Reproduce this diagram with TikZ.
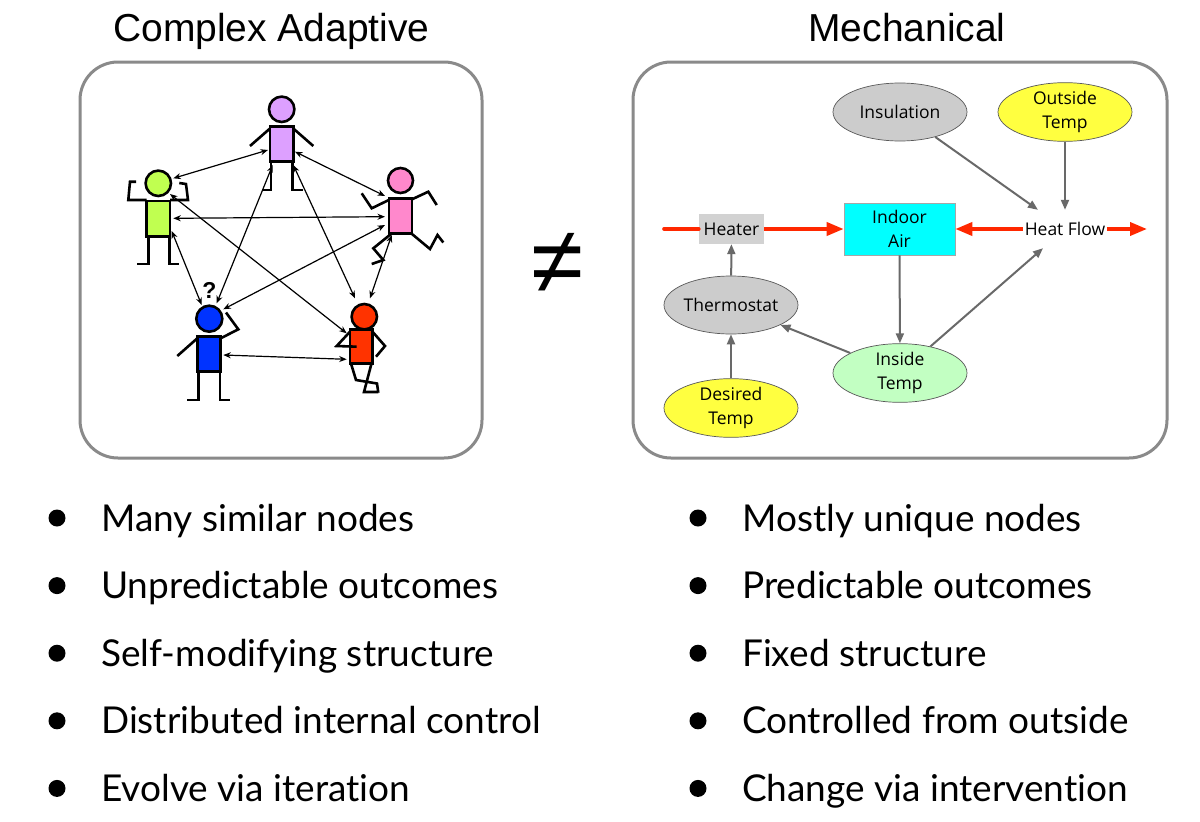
\documentclass[tikz,border=0pt]{standalone}
\usepackage{fontspec}
\setmainfont{Liberation Sans}
\newfontfamily\gillf[Ligatures=NoCommon]{Lato}
\newfontfamily\comicf{Open Sans}
\usetikzlibrary{arrows.meta,shapes.geometric}
\definecolor{boxgray}{RGB}{138,138,138}
\definecolor{arrgray}{RGB}{105,105,105}
\definecolor{nodegray}{RGB}{204,204,204}
\definecolor{heatergray}{RGB}{210,210,210}
\definecolor{nyellow}{RGB}{255,255,64}
\definecolor{ncyan}{RGB}{0,255,255}
\definecolor{ngreen}{RGB}{194,255,194}
\definecolor{hotred}{RGB}{255,40,0}
\definecolor{fpurple}{RGB}{221,160,255}
\definecolor{fgreen}{RGB}{192,255,80}
\definecolor{fpink}{RGB}{255,136,204}
\definecolor{fblue}{RGB}{0,51,255}
\definecolor{fred}{RGB}{255,51,0}
\tikzset{
  panel/.style={draw=boxgray, line width=3, rounded corners=38},
  title/.style={anchor=base, font=\fontsize{39}{45}\selectfont},
  bul/.style={circle, fill=black, minimum size=17, inner sep=0},
  btext/.style={anchor=base west, inner sep=0, font=\gillf\fontsize{37}{40}\selectfont},
  limb/.style={line width=2.6, line join=miter},
  headc/.style={line width=2.6},
  link/.style={line width=1.2, {Stealth[length=7.5,width=6]}-{Stealth[length=7.5,width=6]}},
  dnode/.style={font=\comicf\fontsize{17.5}{24}\selectfont, align=center, inner sep=0},
  oval/.style={dnode, ellipse, draw=black!65, line width=0.7, minimum width=134, minimum height=58},
  garrow/.style={draw=arrgray, line width=2, -{Triangle[length=10,width=8]}},
  rarrow/.style={draw=hotred, line width=3.6, -{Triangle[length=17,width=13]}},
}
\begin{document}
\begin{tikzpicture}[x=1pt,y=-1pt]
\useasboundingbox (0,0) rectangle (1200,822);
\fill[white] (0,0) rectangle (1200,822);

% titles
\node[title] (t1) at (271.5,41) {Complex Adaptive};
\node[title] (t2) at (907,41) {Mechanical};

% panels
\draw[panel] (80,62) rectangle (482,458);
\draw[panel] (633,62) rectangle (1167,458);

% not equal
\node[anchor=base, inner sep=0, font=\fontsize{95}{95}\selectfont] (neq) at (557.5,293) {≠};

% ---------- stick figures ----------
% purple
\filldraw[fill=fpurple, limb] (270,126.7) rectangle (293.3,161.7);
\filldraw[fill=fpurple, headc] (281.7,109.3) circle (12.7);
\draw[limb] (270,128.5) -- (250,146);
\draw[limb] (293.3,128.5) -- (313.3,146);
\draw[limb] (271,161.7) -- (271,190) -- (261.7,190);
\draw[limb] (292.5,161.7) -- (292.5,190) -- (302.7,190);
% green
\filldraw[fill=fgreen, limb] (146.7,201) rectangle (170,236.7);
\filldraw[fill=fgreen, headc] (158.3,183.3) circle (12.7);
\draw[limb] (146.7,200) -- (128.3,200) -- (130,181.7) -- (136,181.7);
\draw[limb] (170,200) -- (188,200) -- (186,184) -- (179.3,183);
\draw[limb] (148.3,236.7) -- (148.3,264) -- (137.3,264);
\draw[limb] (169.5,236.7) -- (169.5,264) -- (179.3,264);
% pink
\filldraw[fill=fpink, limb] (388.8,198.3) rectangle (412,233.7);
\filldraw[fill=fpink, headc] (400.5,180.5) circle (12.5);
\draw[limb] (388.8,200) -- (371.7,208.3) -- (361.7,193.3);
\draw[limb] (412,199.3) -- (428.3,191.7) -- (436.7,205);
\draw[limb] (391,234) -- (373.3,248.3) -- (383.3,260) -- (371.7,264);
\draw[limb] (412,234) -- (430,249) -- (437.5,235) -- (443.3,242.5);
% blue
\filldraw[fill=fblue, limb] (197.3,336.7) rectangle (220.7,371.7);
\filldraw[fill=fblue, headc] (209.3,318.7) circle (13);
\draw[limb] (197.3,338.3) -- (177.3,356);
\draw[limb] (220.7,338.3) -- (238.3,329.3) -- (226,312.5);
\draw[limb] (198.3,371.7) -- (198.3,400) -- (187.3,400);
\draw[limb] (220,371.7) -- (220,400) -- (230,400);
\node[inner sep=0, font=\bfseries\fontsize{23}{23}\selectfont] (qm) at (209.3,290) {?};
% red
\filldraw[fill=fred, limb] (350,329.7) rectangle (372.5,363.5);
\filldraw[fill=fred, headc] (364.3,316.7) circle (12.7);
\draw[limb] (350,331.7) -- (336.7,346) -- (356.7,346.7);
\draw[limb] (372.5,331.7) -- (385,346) -- (376,356.7);
\draw[limb] (351,363.5) -- (356,380) -- (377,383.5) -- (378.3,392.7);
\draw[limb] (371.5,363.5) -- (364,392) -- (378.3,392);

% ---------- links between figures ----------
\coordinate (pg1) at (268,150); \coordinate (pg2) at (173.3,178.3);
\coordinate (pk1) at (295,151.7); \coordinate (pk2) at (385,196);
\coordinate (pb1) at (272.7,165); \coordinate (pb2) at (216.7,303.3);
\coordinate (pr1) at (293.3,165); \coordinate (pr2) at (355,298.3);
\coordinate (gk1) at (173.3,218.3); \coordinate (gk2) at (385,216.7);
\coordinate (gb1) at (171.7,231); \coordinate (gb2) at (201.7,305);
\coordinate (gr1) at (170,194); \coordinate (gr2) at (346.7,333.3);
\coordinate (kb1) at (385,225); \coordinate (kb2) at (223.3,309.3);
\coordinate (kr1) at (391.7,235); \coordinate (kr2) at (370,298.3);
\coordinate (br1) at (223.3,355); \coordinate (br2) at (346.7,359.3);
\draw[link] (pg1) -- (pg2);
\draw[link] (pk1) -- (pk2);
\draw[link] (pb1) -- (pb2);
\draw[link] (pr1) -- (pr2);
\draw[link] (gk1) -- (gk2);
\draw[link] (gb1) -- (gb2);
\draw[link] (gr1) -- (gr2);
\draw[link] (kb1) -- (kb2);
\draw[link] (kr1) -- (kr2);
\draw[link] (br1) -- (br2);

% ---------- mechanical diagram ----------
\node[oval, fill=nodegray] (ins) at (900,112) {Insulation};
\node[oval, fill=nyellow] (ot) at (1065,112) {Outside\\Temp};
\node[dnode, fill=heatergray, minimum width=65, minimum height=30] (heater) at (731.5,229) {Heater};
\node[dnode, fill=ncyan, draw=black!35, line width=0.6, minimum width=111, minimum height=52] (ia) at (899.5,229) {Indoor\\Air};
\node[dnode, inner xsep=2, minimum height=38] (hf) at (1065,229) {Heat Flow};
\node[oval, fill=nodegray] (th) at (731,305) {Thermostat};
\node[oval, fill=ngreen] (it) at (900,373) {Inside\\Temp};
\node[oval, fill=nyellow] (dt) at (731,408) {Desired\\Temp};

\coordinate (hl) at (664,229);
\coordinate (hr) at (1147,229);
\draw[draw=hotred, line width=3.6, line cap=round] (hl) -- (heater.west);
\draw[rarrow] (heater.east) -- (ia.west);
\draw[rarrow] (hf.west) -- (ia.east);
\draw[rarrow] (hf.east) -- (hr);

\draw[garrow] (ins) -- (hf);
\draw[garrow] (ot) -- (hf);
\draw[garrow] (ia) -- (it);
\draw[garrow] (it) -- (hf);
\draw[garrow] (it) -- (th);
\draw[garrow] (th) -- (heater);
\draw[garrow] (dt) -- (th);

% ---------- bullets ----------
\node[bul] (lb1) at (57,518) {};
\node[bul] (lb2) at (57,585.6) {};
\node[bul] (lb3) at (57,653.2) {};
\node[bul] (lb4) at (57,720.8) {};
\node[bul] (lb5) at (57,788.4) {};
\node[btext] (lt1) at (101,531) {Many similar nodes};
\node[btext] (lt2) at (101,598.6) {Unpredictable outcomes};
\node[btext] (lt3) at (101,666.2) {Self-modifying structure};
\node[btext] (lt4) at (101,733.8) {Distributed internal control};
\node[btext] (lt5) at (101,801.4) {Evolve via iteration};
\node[bul] (rb1) at (698,518) {};
\node[bul] (rb2) at (698,585.6) {};
\node[bul] (rb3) at (698,653.2) {};
\node[bul] (rb4) at (698,720.8) {};
\node[bul] (rb5) at (698,788.4) {};
\node[btext] (rt1) at (742,531) {Mostly unique nodes};
\node[btext] (rt2) at (742,598.6) {Predictable outcomes};
\node[btext] (rt3) at (742,666.2) {Fixed structure};
\node[btext] (rt4) at (742,733.8) {Controlled from outside};
\node[btext] (rt5) at (742,801.4) {Change via intervention};
\end{tikzpicture}
\end{document}
